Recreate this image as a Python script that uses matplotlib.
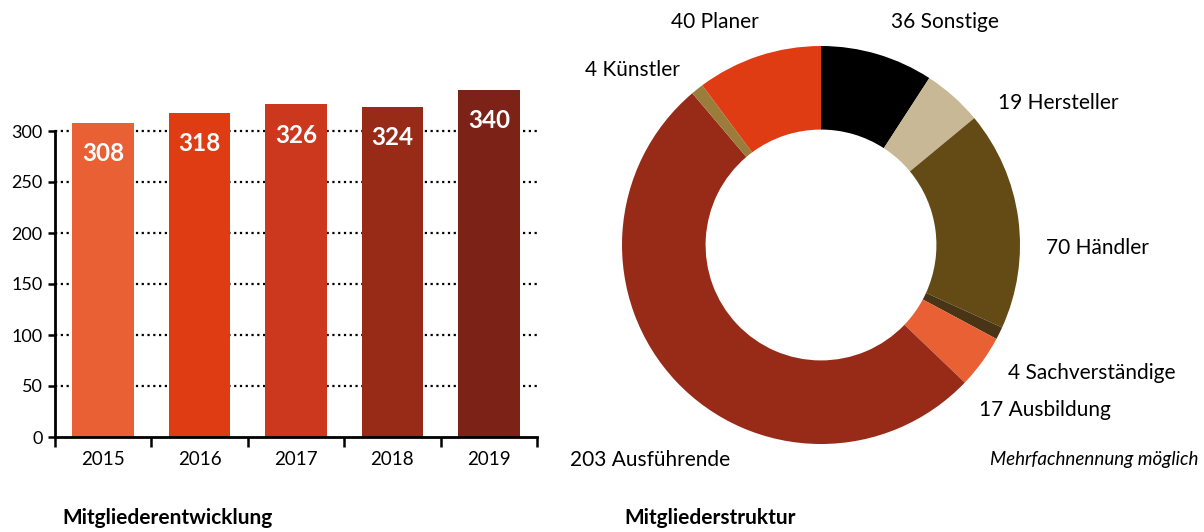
import matplotlib
matplotlib.use("Agg")
import matplotlib.pyplot as plt
import numpy as np

plt.rcParams['font.family'] = ['Lato', 'DejaVu Sans']

# --- data ---
years = ["2015", "2016", "2017", "2018", "2019"]
members = [308, 318, 326, 324, 340]
bar_colors = ["#e86034", "#e03c14", "#cc381e", "#982a18", "#7c2216"]
yticks = [0, 50, 100, 150, 200, 250, 300]

groups = ["Sonstige", "Hersteller", "Händler", "Sachverständige", "Ausbildung",
          "Ausführende", "Künstler", "Planer"]
counts = [36, 19, 70, 4, 17, 203, 4, 40]
pie_colors = ["#000000", "#c8b896", "#644a14", "#4a3416", "#e86034",
              "#982a18", "#9a7d3a", "#e03c14"]
# label anchor positions in pixels (x, y from top), ha
label_pos = [(891, 22, "left"), (998, 103, "left"), (1046, 248, "left"),
             (1008, 373, "left"), (979, 410, "left"), (570, 460, "left"),
             (585, 70, "left"), (715, 22, "center")]

W, H = 1204, 532
fig = plt.figure(figsize=(W / 100, H / 100), dpi=100)

def px(x0, y_top, w, h):
    return [x0 / W, (H - y_top - h) / H, w / W, h / H]

# ===== bar chart =====
ymax = 350
ax = fig.add_axes(px(55, 437 - ymax * 1.02, 482, ymax * 1.02))
x = np.arange(len(years))
for xi in yticks[1:]:
    ax.axhline(xi, color="black", lw=1.6, ls=(0, (1, 1.6)), zorder=0)
ax.bar(x, members, width=0.64, color=bar_colors, zorder=2, clip_on=False)
for xi, v in zip(x, members):
    ax.annotate(str(v), (xi, v), xytext=(0, -22), textcoords="offset points",
                ha="center", va="center", color="white", fontsize=17.5,
                fontweight="bold")
ax.set_xlim(-0.5, len(years) - 0.5)
ax.set_ylim(0, ymax)
ax.set_yticks(yticks)
ax.set_yticklabels([str(t) for t in yticks], fontsize=13)
ax.set_xticks(np.arange(-0.5, len(years), 1.0))
ax.set_xticklabels([])
ax.set_xticks(x, minor=True)
ax.set_xticklabels(years, minor=True, fontsize=13.5)
ax.tick_params(axis="x", which="major", length=7, width=1.8, direction="out")
ax.tick_params(axis="x", which="minor", length=0, pad=10)
ax.tick_params(axis="y", length=5, width=1.8, direction="out", pad=4)
for s in ["top", "right"]:
    ax.spines[s].set_visible(False)
for s in ["left", "bottom"]:
    ax.spines[s].set_linewidth(2)
ax.spines["left"].set_bounds(0, 300)
fig.text(62 / W, 1 - 518 / H, "Mitgliederentwicklung", fontsize=15,
         fontweight="bold", va="center", ha="left")

# ===== donut =====
r = 199
ax2 = fig.add_axes(px(821 - r, 245 - r, 2 * r, 2 * r))
ax2.pie(counts, colors=pie_colors, startangle=90, counterclock=False,
        radius=1.0, wedgeprops=dict(width=0.42, linewidth=0))
ax2.set_xlim(-1, 1)
ax2.set_ylim(-1, 1)
ax2.set_aspect("equal")
ax2.axis("off")

for g, c, (lx, ly, ha) in zip(groups, counts, label_pos):
    fig.text(lx / W, 1 - ly / H, f"{c} {g}", fontsize=15, ha=ha, va="center")

fig.text(1198 / W, 1 - 460 / H, "Mehrfachnennung möglich", fontsize=13.5,
         style="italic", ha="right", va="center")
fig.text(624 / W, 1 - 518 / H, "Mitgliederstruktur", fontsize=15,
         fontweight="bold", va="center", ha="left")

fig.savefig("out.png", dpi=100)
